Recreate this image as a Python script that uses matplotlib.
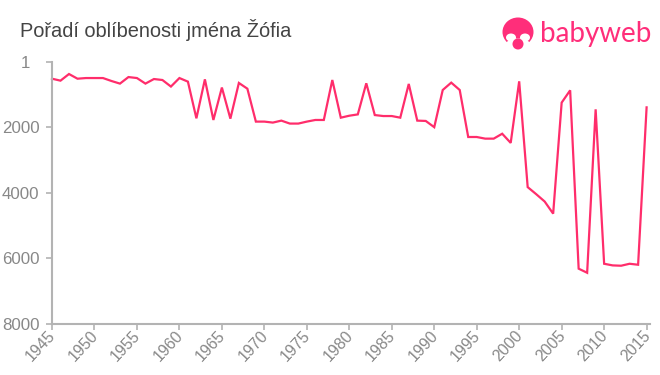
import matplotlib

matplotlib.use("Agg")
import matplotlib.pyplot as plt
from matplotlib.patches import Circle, Ellipse
from matplotlib.transforms import ScaledTranslation

plt.rcParams["font.family"] = ["Liberation Sans", "DejaVu Sans"]

TITLE = "Pořadí oblíbenosti jména Žófia"
BRAND = "babyweb"

years = list(range(1945, 2016))
ranks = [
    520, 580, 377, 520, 500, 500, 500, 590, 670, 470,
    500, 670, 530, 560, 760, 500, 610, 1730, 540, 1780,
    790, 1740, 650, 825, 1830, 1830, 1860, 1800, 1890, 1890,
    1830, 1780, 1780, 560, 1710, 1650, 1610, 660, 1630, 1660,
    1660, 1710, 680, 1800, 1810, 2000, 865, 640, 865, 2300,
    2300, 2350, 2350, 2200, 2480, 600, 3830, 4045, 4270, 4640,
    1250, 875, 6320, 6445, 1455, 6170, 6220, 6230, 6170, 6200,
    1395,
]
x_ticks = list(range(1945, 2016, 5))
y_ticks = [1, 2000, 4000, 6000, 8000]

PINK = "#ff2d6b"
LOGO_PINK = "#ff2e7a"
GREY = "#b3b3b3"
W, H = 660, 375


def draw_logo(fig):
    # overlay in pixel coords, y going down
    ax = fig.add_axes([0, 0, 1, 1])
    ax.set_xlim(0, W)
    ax.set_ylim(H, 0)
    ax.axis("off")
    ax.patch.set_alpha(0)
    ax.add_patch(Ellipse((518, 32), 31, 29, color=LOGO_PINK, lw=0))
    ax.add_patch(Ellipse((511, 37.5), 10, 8, color="white", lw=0))
    ax.add_patch(Ellipse((525, 37.5), 10, 8, color="white", lw=0))
    ax.add_patch(Ellipse((518, 44), 24, 11, color="white", lw=0))
    ax.add_patch(Circle((518, 44), 5.5, color=LOGO_PINK, lw=0))
    ax.text(540.5, 42, BRAND, color=LOGO_PINK, fontsize=20, family="Lato",
            ha="left", va="baseline")


def main():
    fig = plt.figure(figsize=(W / 100, H / 100), dpi=100)
    ax = fig.add_axes([52 / W, 1 - 323.7 / H, (650 - 52) / W, (323.7 - 61.7) / H])

    ax.plot(years, ranks, color=PINK, lw=1.6, solid_joinstyle="miter", clip_on=False)

    ax.set_xlim(1945, 2015.4)
    ax.set_ylim(8000, 1)
    ax.set_xticks(x_ticks)
    ax.set_yticks(y_ticks)
    ax.set_xticklabels(x_ticks, rotation=47, ha="right", rotation_mode="anchor")

    for side in ("top", "right"):
        ax.spines[side].set_visible(False)
    for side in ("left", "bottom"):
        ax.spines[side].set_color(GREY)
        ax.spines[side].set_linewidth(1.5)
    ax.tick_params(axis="x", color=GREY, width=1.2, length=4, pad=1,
                   labelcolor="#888888", labelsize=11.4)
    ax.tick_params(axis="y", color=GREY, width=1.2, length=4, pad=5,
                   labelcolor="#888888", labelsize=12.2)

    # nudge year labels so they end just under their ticks
    for label in ax.get_xticklabels():
        label.set_transform(label.get_transform() + ScaledTranslation(-4.5 / 100, 3 / 100, fig.dpi_scale_trans))

    # the "1" sits further left than the other rank labels
    first = ax.get_yticklabels()[0]
    first.set_transform(first.get_transform() + ScaledTranslation(-9 / 100, 0, fig.dpi_scale_trans))

    fig.text(20 / W, 1 - 30 / H, TITLE, color="#444444", fontsize=14.4,
             ha="left", va="center")
    draw_logo(fig)
    fig.savefig("out.png", dpi=100)


if __name__ == "__main__":
    main()
